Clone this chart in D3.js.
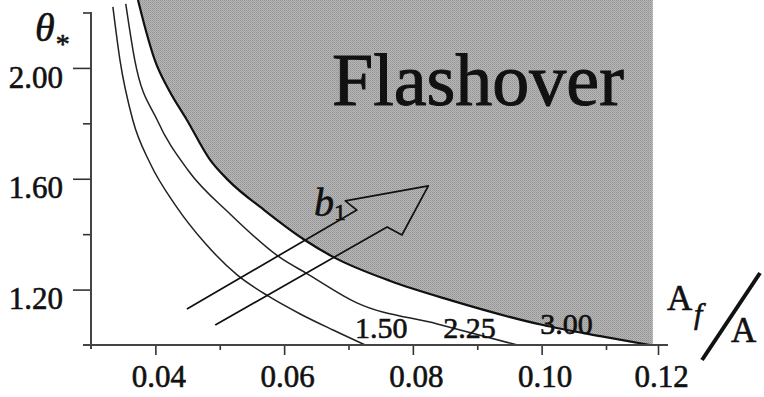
<!DOCTYPE html>
<html>
<head>
<meta charset="utf-8">
<script src="https://cdnjs.cloudflare.com/ajax/libs/d3/7.8.5/d3.min.js"></script>
<style>
  body { margin: 0; background: #fff; }
  svg text { font-family: "Liberation Serif", "Times New Roman", serif; fill: #111; stroke: #111; stroke-width: 0.6px; }
</style>
</head>
<body>
<div id="chart"></div>
<script>

var curve150X = [0.0334, 0.0345, 0.0365, 0.0392, 0.0431, 0.0477, 0.0527, 0.0575, 0.0625, 0.0676, 0.0726];
var curve150Y = [2.220, 2.028, 1.811, 1.655, 1.505, 1.368, 1.253, 1.177, 1.112, 1.054, 1.000];

var curve225X = [0.0354, 0.0368, 0.0403, 0.0451, 0.0516, 0.0594, 0.0636, 0.0713, 0.0838, 0.0962];
var curve225Y = [2.231, 2.028, 1.811, 1.630, 1.473, 1.315, 1.257, 1.152, 1.076, 1.000];

// 3.00 curve = edge of the flashover region
var curve300X = [0.0373, 0.0385, 0.0399, 0.0421, 0.0449, 0.0485, 0.0513, 0.0569, 0.0632, 0.0676, 0.0765, 0.0858, 0.1002, 0.1091, 0.1185];
var curve300Y = [2.245, 2.137, 2.029, 1.920, 1.812, 1.668, 1.595, 1.487, 1.379, 1.318, 1.231, 1.162, 1.072, 1.032, 1.000];

var curveNames = ["1.50", "2.25", "3.00"];
var labelX = [0.0710, 0.0847, 0.0998];
var labelY = [1.024, 1.024, 1.038];

var xMajorTicks = [0.04, 0.06, 0.08, 0.10, 0.12];
var xMinorTicks = [0.05, 0.07, 0.09, 0.11];
var yMajorTicks = [1.20, 1.60, 2.00];
var yMinorTicks = [1.40, 1.80, 2.20];

// hand drawn arrow (open at the tail)
var arrowX = [0.0449, 0.0713, 0.0695, 0.0824, 0.0783, 0.0760, 0.0493];
var arrowY = [1.130, 1.487, 1.520, 1.574, 1.397, 1.426, 1.072];

var width = 764, height = 397;

var svg = d3.select("#chart")
  .append("svg")
    .attr("width", width)
    .attr("height", height);

svg.append("rect").attr("width", width).attr("height", height).attr("fill", "#fff");

// the printed axis is a bit squeezed after 0.11
var x = d3.scaleLinear()
  .domain([0.03, 0.11, 0.12])
  .range([91, 606, 658]);

var y = d3.scaleLinear()
  .domain([1.0, 2.2])
  .range([345, 12.5]);

// halftone grey
var defs = svg.append("defs");
var pat = defs.append("pattern")
    .attr("id", "dots")
    .attr("width", 2).attr("height", 2)
    .attr("patternUnits", "userSpaceOnUse");
pat.append("rect").attr("width", 2).attr("height", 2).attr("fill", "#b8b8b8");
pat.append("rect").attr("width", 1).attr("height", 1).attr("fill", "#929292");
pat.append("rect").attr("x", 1).attr("y", 1).attr("width", 1).attr("height", 1).attr("fill", "#a0a0a0");

function pts(xs, ys) {
  return xs.map(function(d, i) { return [d, ys[i]]; });
}

var line = d3.line()
  .x(function(d) { return x(d[0]); })
  .y(function(d) { return y(d[1]); })
  .curve(d3.curveMonotoneX);

// shaded flashover region : above the 3.00 curve up to the top, right edge 0.119
var shade = pts(curve300X, curve300Y).concat([[0.1190, 1.0]]);
var area = d3.area()
  .x(function(d) { return x(d[0]); })
  .y0(0)
  .y1(function(d) { return y(d[1]); })
  .curve(d3.curveMonotoneX);

svg.append("path")
  .attr("d", area(shade))
  .attr("fill", "url(#dots)");

// curves
svg.append("path")
  .attr("d", line(pts(curve150X, curve150Y)))
  .attr("fill", "none").attr("stroke", "#222").attr("stroke-width", 1.5);
svg.append("path")
  .attr("d", line(pts(curve225X, curve225Y)))
  .attr("fill", "none").attr("stroke", "#222").attr("stroke-width", 1.5);
svg.append("path")
  .attr("d", line(pts(curve300X, curve300Y)))
  .attr("fill", "none").attr("stroke", "#111").attr("stroke-width", 2.2);

// arrow
svg.append("path")
  .attr("d", d3.line()
      .x(function(d) { return x(d[0]); })
      .y(function(d) { return y(d[1]); })(pts(arrowX, arrowY)))
  .attr("fill", "none").attr("stroke", "#111").attr("stroke-width", 1.7)
  .attr("stroke-linejoin", "round");

// x axis
var gx = svg.append("g").attr("transform", "translate(0,345)");
gx.call(d3.axisBottom(x).tickValues(xMajorTicks).tickSize(10).tickPadding(10)
    .tickFormat(d3.format(".2f")));
gx.append("g").call(d3.axisBottom(x).tickValues(xMinorTicks).tickSize(5).tickFormat(""));
gx.selectAll(".domain").remove();
gx.selectAll("line").attr("stroke", "#333").attr("stroke-width", 1.6);
gx.selectAll("text").attr("font-size", 31).attr("dx", 3);
svg.append("line")
  .attr("x1", 83).attr("x2", 668).attr("y1", 345).attr("y2", 345)
  .attr("stroke", "#444").attr("stroke-width", 2);

// y axis
var gy = svg.append("g").attr("transform", "translate(91,0)");
gy.call(d3.axisLeft(y).tickValues(yMajorTicks).tickSize(18).tickPadding(10)
    .tickFormat(d3.format(".2f")));
gy.append("g").call(d3.axisLeft(y).tickValues(yMinorTicks).tickSize(8).tickFormat(""));
gy.selectAll(".domain").remove();
gy.selectAll("line").attr("stroke", "#333").attr("stroke-width", 1.6);
gy.selectAll("text").attr("font-size", 31).attr("dy", "0.62em");
svg.append("line")
  .attr("x1", 91).attr("x2", 91).attr("y1", 12).attr("y2", 349)
  .attr("stroke", "#444").attr("stroke-width", 2);

// curve labels
svg.selectAll(".clabel")
  .data(curveNames)
  .enter()
  .append("text")
    .attr("class", "clabel")
    .attr("x", function(d, i) { return x(labelX[i]); })
    .attr("y", function(d, i) { return y(labelY[i]); })
    .attr("font-size", 30)
    .text(function(d) { return d; });

// region label
svg.append("text")
  .attr("x", 332).attr("y", 105)
  .attr("font-size", 74)
  .style("stroke-width", "1px")
  .text("Flashover");

// handwritten b1 near the arrow
var hb = svg.append("text").attr("x", 314).attr("y", 216)
  .attr("font-style", "italic").attr("font-size", 40);
hb.append("tspan").text("b");
hb.append("tspan").attr("font-size", 24).attr("dy", 4).attr("font-style", "normal").text("1");

// y title theta*
var yt = svg.append("text").attr("x", 35).attr("y", 41).attr("font-size", 40);
yt.append("tspan").attr("font-style", "italic").text("θ");
yt.append("tspan").attr("font-size", 28).attr("dy", 12).attr("dx", 1).text("*");

// x title A_f / A
svg.append("text").attr("x", 667).attr("y", 310).attr("font-size", 35).text("A");
svg.append("text").attr("x", 694).attr("y", 324).attr("font-size", 30)
  .attr("font-style", "italic").text("f");
svg.append("line")
  .attr("x1", 702).attr("y1", 360).attr("x2", 760).attr("y2", 273)
  .attr("stroke", "#111").attr("stroke-width", 4);
svg.append("text").attr("x", 731).attr("y", 342).attr("font-size", 35).text("A");

</script>
</body>
</html>
